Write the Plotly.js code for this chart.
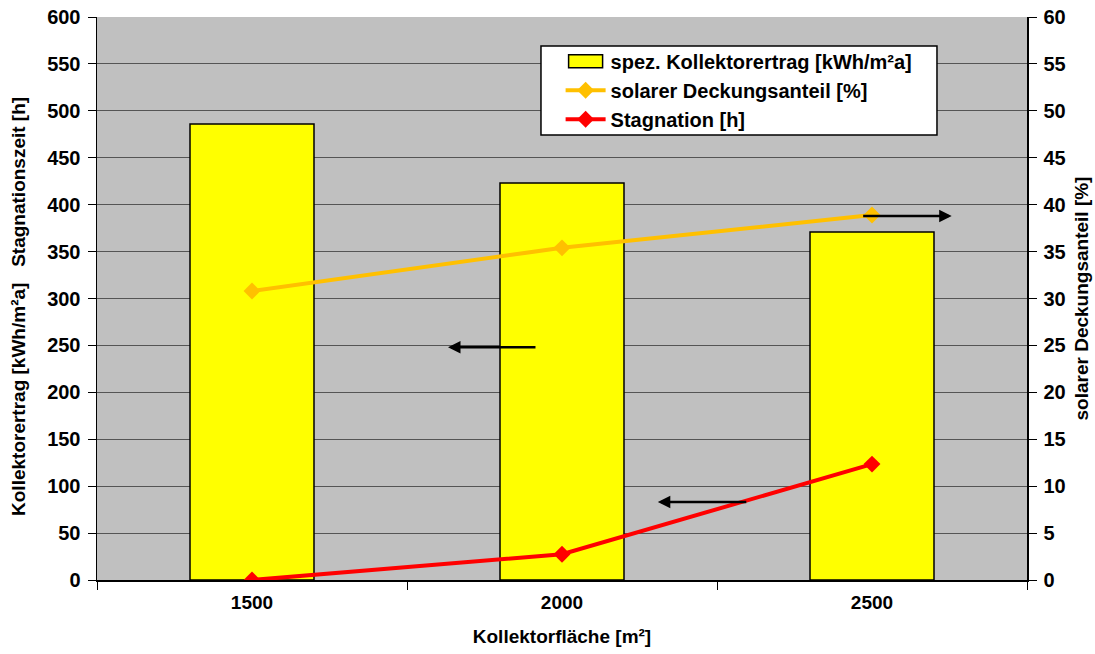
<!DOCTYPE html>
<html>
<head>
<meta charset="utf-8">
<script src="https://cdn.plot.ly/plotly-3.0.1.min.js"></script>
<style>html,body{margin:0;padding:0;background:#fff;}#chart{width:1095px;height:654px;}</style>
</head>
<body>
<div id="chart"></div>
<script>
const categories = ["1500", "2000", "2500"];
const kollektorertrag = [486, 423, 371];
const deckungsanteil = [30.8, 35.4, 38.9];
const stagnation = [0, 27.5, 123.5];
const leftTicks = [0, 50, 100, 150, 200, 250, 300, 350, 400, 450, 500, 550, 600];
const rightTicks = [0, 5, 10, 15, 20, 25, 30, 35, 40, 45, 50, 55, 60];
const seriesNames = ["spez. Kollektorertrag [kWh/m²a]", "solarer Deckungsanteil [%]", "Stagnation [h]"];
const xTitle = "Kollektorfläche [m²]";
const yTitle = "Kollektorertrag [kWh/m²a]   Stagnationszeit [h]\u00a0\u00a0\u00a0";
const y2Title = "solarer Deckungsanteil [%]";

const FAM = "Liberation Sans, Arial, sans-serif";
const f = (s) => ({family: FAM, size: s, color: "#000"});
const b = (t) => "<b>" + t + "</b>";

const traces = [
  {
    type: "bar", x: categories, y: kollektorertrag,
    name: b(seriesNames[0]),
    width: 0.4,
    marker: {color: "#FFFF00", line: {color: "#000", width: 1.5}},
    yaxis: "y"
  },
  {
    type: "scatter", mode: "lines+markers", x: categories, y: deckungsanteil,
    name: b(seriesNames[1]),
    line: {color: "#FFC000", width: 4},
    marker: {symbol: "diamond", size: 13, color: "#FFC000"},
    yaxis: "y2"
  },
  {
    type: "scatter", mode: "lines+markers", x: categories, y: stagnation,
    name: b(seriesNames[2]),
    line: {color: "#FF0000", width: 4},
    marker: {symbol: "diamond", size: 13, color: "#FF0000"},
    yaxis: "y"
  }
];

const arrow = {showarrow: true, arrowhead: 2, arrowsize: 1, arrowwidth: 2.5, arrowcolor: "#000", text: "", xref: "paper", axref: "pixel", ayref: "pixel"};

const layout = {
  width: 1095, height: 654,
  margin: {l: 97, r: 68, t: 17, b: 74},
  paper_bgcolor: "#fff",
  plot_bgcolor: "#C0C0C0",
  font: f(19),
  showlegend: true,
  legend: {
    x: 0.4985, y: 0.956, xanchor: "left", yanchor: "top",
    bgcolor: "rgba(0,0,0,0)", borderwidth: 0,
    font: f(20), tracegroupgap: 0, itemwidth: 40
  },
  shapes: [
    {type: "rect", xref: "paper", yref: "paper", x0: 0.4774, x1: 0.9032, y0: 0.7904, y1: 0.9485,
     fillcolor: "#fff", line: {color: "#000", width: 1.5}, layer: "above"}
  ],
  xaxis: {
    type: "category",
    tickson: "boundaries",
    ticks: "outside", ticklen: 8, tickcolor: "#000",
    showline: true, linecolor: "#000", linewidth: 1.5,
    showgrid: false,
    tickfont: f(19),
    tickvals: categories, ticktext: categories.map(b),
    ticklabelstandoff: 5,
    title: {text: b(xTitle), font: f(19), standoff: 17},
    fixedrange: true
  },
  yaxis: {
    range: [0, 600], tickvals: leftTicks, ticktext: leftTicks.map(v => b(String(v))),
    ticks: "outside", ticklen: 8, tickcolor: "#000",
    showline: true, linecolor: "#000", linewidth: 1.5,
    showgrid: true, gridcolor: "#555", gridwidth: 1,
    zeroline: false,
    tickfont: f(20), ticklabelstandoff: 3,
    title: {text: b(yTitle), font: f(19), standoff: 16}
  },
  yaxis2: {
    overlaying: "y", side: "right",
    range: [0, 60], tickvals: rightTicks, ticktext: rightTicks.map(v => b(String(v))),
    ticks: "outside", ticklen: 8, tickcolor: "#000",
    showline: true, linecolor: "#000", linewidth: 1.5,
    showgrid: false, zeroline: false,
    tickfont: f(20), ticklabelstandoff: 3,
    title: {text: b(y2Title), font: f(19), standoff: 10}
  },
  annotations: [
    Object.assign({}, arrow, {x: 0.3774, yref: "y", y: 248, ax: 89, ay: 0}),
    Object.assign({}, arrow, {x: 0.603, yref: "y", y: 83, ax: 90, ay: 0}),
    Object.assign({}, arrow, {x: 0.919, yref: "y2", y: 38.8, ax: -90, ay: 0})
  ]
};

Plotly.newPlot("chart", traces, layout, {displayModeBar: false, staticPlot: true}).then(function (gd) {
  // widen the bar legend swatch to a rectangle like the original
  const p = gd.querySelector(".legend .traces .legendpoints path");
  if (p) p.setAttribute("d", "M17,6.5H-17V-6.5H17Z");
});
</script>
</body>
</html>
